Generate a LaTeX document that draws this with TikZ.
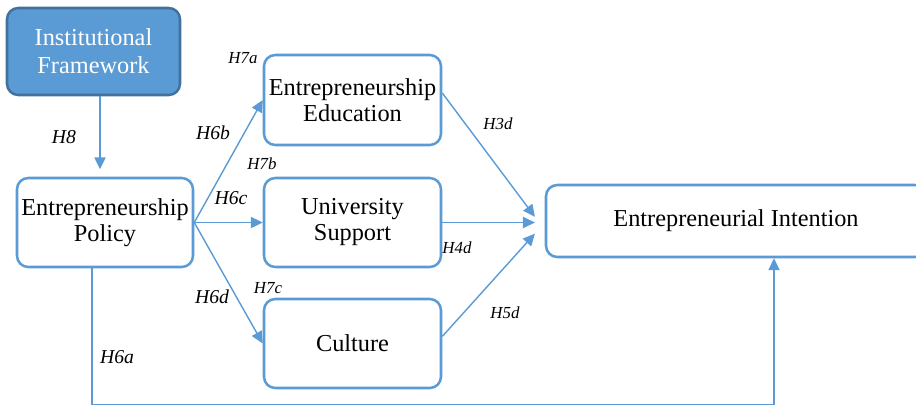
\documentclass[tikz,border=0pt]{standalone}
\usepackage{fontspec}
\setmainfont{Liberation Serif}
\usetikzlibrary{arrows.meta}
\definecolor{boxblue}{HTML}{5B9BD5}
\definecolor{edgeblue}{HTML}{41719C}
\begin{document}
\begin{tikzpicture}
\tikzstyle{dep}= [-{Triangle[length=8.5pt,width=8pt]},line width=1pt,boxblue]
\tikzstyle{bb}= [rectangle,rounded corners=8pt,draw=boxblue,line width=1.8pt,fill=white,align=center,inner sep=0pt,font=\fontsize{17.3}{18.5}\selectfont]
\tikzstyle{bbfill}= [bb,draw=edgeblue,fill=boxblue,text=white,font=\fontsize{17.3}{20}\selectfont]
\tikzstyle{hyp}= [font=\itshape\fontsize{14}{16}\selectfont,inner sep=0pt]
\tikzstyle{hyps}= [font=\itshape\fontsize{12}{14}\selectfont,inner sep=0pt]
\useasboundingbox (0,0) rectangle (22.9,-10.1);
\clip (0,0) rectangle (22.9,-10.1);
\path
	( 2.3375,-1.2875) node[bbfill,minimum width=4.325cm,minimum height=2.175cm] (inst) {Institutional\\Framework}
	( 2.625,-5.5625) node[bb,minimum width=4.4cm,minimum height=2.225cm] (pol) {Entrepreneurship\\Policy}
	( 8.8125,-2.5) node[bb,minimum width=4.425cm,minimum height=2.25cm] (edu) {Entrepreneurship\\Education}
	( 8.8125,-5.5625) node[bb,minimum width=4.425cm,minimum height=2.225cm] (uni) {University\\Support}
	( 8.8125,-8.5875) node[bb,minimum width=4.425cm,minimum height=2.225cm] (cul) {Culture}
	(18.4,-5.525) node[bb,minimum width=9.5cm,minimum height=1.8cm] (ei) {Entrepreneurial Intention}
;
\path
	( 1.6,-3.425) node[hyp] (h8) {H8}
	( 6.075,-1.45) node[hyps] (h7a) {H7a}
	( 5.325,-3.325) node[hyp] (h6b) {H6b}
	( 6.55,-4.1) node[hyps] (h7b) {H7b}
	( 5.775,-4.95) node[hyp] (h6c) {H6c}
	( 5.3,-7.425) node[hyp] (h6d) {H6d}
	( 6.7,-7.2) node[hyps] (h7c) {H7c}
	( 2.925,-8.925) node[hyp] (h6a) {H6a}
	(12.45,-3.1) node[hyps] (h3d) {H3d}
	(11.425,-6.2) node[hyps] (h4d) {H4d}
	(12.625,-7.825) node[hyps] (h5d) {H5d}
;
\draw[dep] ([xshift=0.1625cm]inst.south) -- ++(0,-1.825);
\draw[dep] (pol.east) -- (edu.west);
\draw[dep] (pol.east) -- (uni.west);
\draw[dep] (pol.east) -- (cul.west);
\draw[dep] ([yshift=5pt]edu.east) -- ([xshift=-7pt,yshift=3pt]ei.west);
\draw[dep] (uni.east) -- ([xshift=-7pt]ei.west |- uni.east);
\draw[dep] ([yshift=5pt]cul.east) -- ([xshift=-7pt,yshift=-9pt]ei.west);
\draw[dep] ([xshift=-0.325cm]pol.south) -- ++(0,-3.4) -| ([xshift=0.95cm]ei.south);
\end{tikzpicture}
\end{document}
